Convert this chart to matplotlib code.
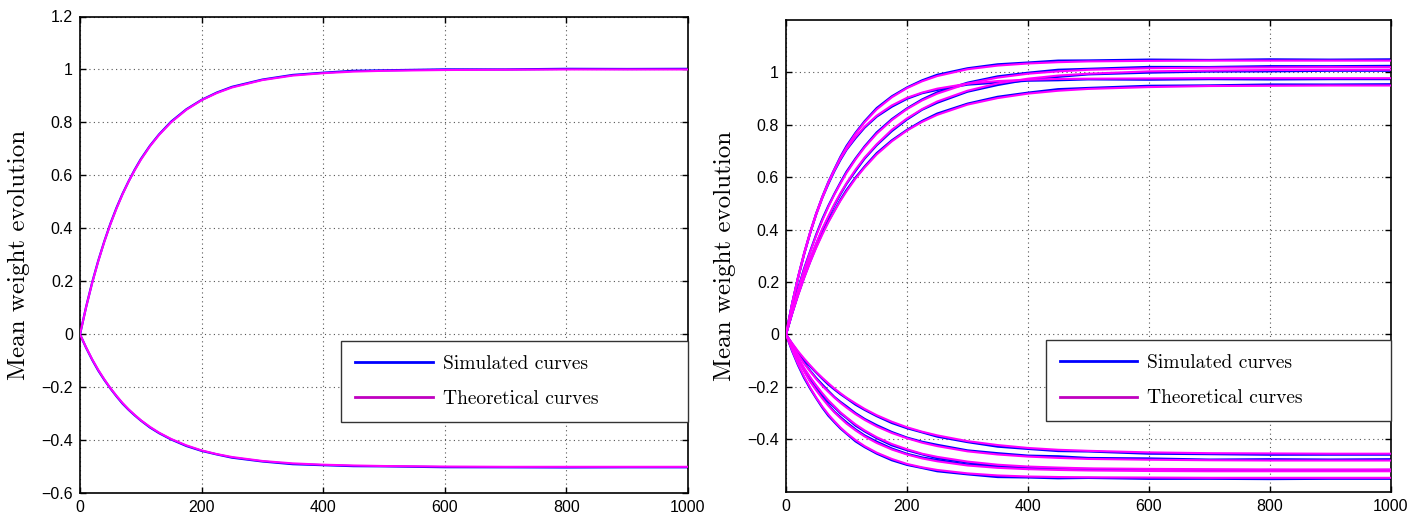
import numpy as np
import matplotlib
matplotlib.use("Agg")
import matplotlib.pyplot as plt
from matplotlib.lines import Line2D
from matplotlib.ticker import FuncFormatter

# iteration index shared by every curve
iters = [0, 10, 20, 30, 40, 50, 60, 70, 80, 90, 100, 115, 130, 150, 175, 200, 225, 250,
         300, 350, 400, 450, 500, 600, 700, 800, 900, 1000]

# left panel: theoretical mean weights (one positive, one negative)
left_up = [0, 0.102, 0.194, 0.276, 0.350, 0.416, 0.475, 0.529, 0.577, 0.620, 0.659, 0.710,
           0.753, 0.801, 0.848, 0.884, 0.911, 0.932, 0.960, 0.977, 0.986, 0.992, 0.995,
           0.998, 0.999, 1.000, 1.000, 1.000]
left_down = [0, -0.049, -0.094, -0.134, -0.170, -0.203, -0.232, -0.259, -0.283, -0.304,
             -0.324, -0.349, -0.371, -0.395, -0.419, -0.438, -0.452, -0.463, -0.478, -0.487,
             -0.492, -0.495, -0.497, -0.499, -0.500, -0.500, -0.500, -0.500]

# right panel: theoretical mean weights, five positive and five negative
right_up = [
    [0, 0.114, 0.214, 0.305, 0.386, 0.457, 0.520, 0.578, 0.628, 0.674, 0.714, 0.766, 0.810,
     0.859, 0.905, 0.940, 0.966, 0.986, 1.012, 1.026, 1.034, 1.039, 1.042, 1.044, 1.045,
     1.045, 1.045, 1.045],
    [0, 0.117, 0.221, 0.312, 0.392, 0.463, 0.525, 0.579, 0.627, 0.670, 0.707, 0.754, 0.793,
     0.835, 0.874, 0.903, 0.923, 0.938, 0.957, 0.967, 0.972, 0.975, 0.976, 0.977, 0.978,
     0.978, 0.978, 0.978],
    [0, 0.090, 0.172, 0.248, 0.315, 0.378, 0.435, 0.487, 0.534, 0.576, 0.616, 0.668, 0.714,
     0.766, 0.818, 0.860, 0.893, 0.919, 0.957, 0.980, 0.995, 1.004, 1.010, 1.016, 1.018,
     1.019, 1.020, 1.020],
    [0, 0.082, 0.158, 0.226, 0.291, 0.348, 0.403, 0.451, 0.497, 0.539, 0.577, 0.629, 0.675,
     0.726, 0.781, 0.824, 0.860, 0.889, 0.930, 0.958, 0.976, 0.988, 0.995, 1.004, 1.007,
     1.009, 1.010, 1.010],
    [0, 0.078, 0.149, 0.215, 0.276, 0.331, 0.381, 0.428, 0.470, 0.510, 0.546, 0.595, 0.637,
     0.687, 0.737, 0.778, 0.811, 0.838, 0.877, 0.902, 0.919, 0.930, 0.937, 0.944, 0.948,
     0.949, 0.950, 0.950],
]
right_down = [
    [0, -0.033, -0.064, -0.092, -0.118, -0.143, -0.165, -0.186, -0.206, -0.224, -0.241,
     -0.263, -0.284, -0.308, -0.333, -0.354, -0.371, -0.385, -0.407, -0.422, -0.433, -0.440,
     -0.444, -0.450, -0.453, -0.454, -0.455, -0.455],
    [0, -0.040, -0.077, -0.111, -0.141, -0.170, -0.196, -0.219, -0.241, -0.261, -0.279,
     -0.304, -0.326, -0.351, -0.376, -0.396, -0.413, -0.426, -0.446, -0.458, -0.466, -0.471,
     -0.475, -0.478, -0.480, -0.481, -0.481, -0.481],
    [0, -0.047, -0.089, -0.128, -0.163, -0.195, -0.224, -0.251, -0.274, -0.297, -0.316,
     -0.343, -0.366, -0.392, -0.418, -0.438, -0.455, -0.467, -0.485, -0.497, -0.504, -0.508,
     -0.511, -0.513, -0.514, -0.515, -0.515, -0.515],
    [0, -0.052, -0.099, -0.141, -0.180, -0.213, -0.244, -0.272, -0.297, -0.319, -0.340,
     -0.366, -0.389, -0.414, -0.439, -0.458, -0.473, -0.484, -0.500, -0.509, -0.514, -0.517,
     -0.519, -0.521, -0.522, -0.522, -0.522, -0.522],
    [0, -0.060, -0.114, -0.161, -0.203, -0.241, -0.275, -0.305, -0.331, -0.355, -0.376,
     -0.403, -0.426, -0.451, -0.475, -0.494, -0.507, -0.517, -0.530, -0.538, -0.542, -0.544,
     -0.545, -0.546, -0.547, -0.547, -0.547, -0.547],
]

# how far the simulated (blue) runs stray from theory
dev_a = [0, 0.002, 0.003, 0.003, 0.002, 0.003, 0.004, 0.003, 0.002, 0.003, 0.004, 0.003,
         0.003, 0.004, 0.003, 0.002, 0.003, 0.004, 0.003, 0.004, 0.003, 0.005, 0.003, 0.004,
         0.002, 0.004, 0.003, 0.004]
dev_b = [0, -0.002, -0.003, -0.004, -0.003, -0.002, -0.003, -0.004, -0.003, -0.003, -0.002,
         -0.004, -0.003, -0.003, -0.004, -0.003, -0.002, -0.004, -0.003, -0.005, -0.003,
         -0.004, -0.002, -0.004, -0.003, -0.004, -0.003, -0.003]

SIM = "#0000ff"
THEO = "#ff00ff"

fig = plt.figure(figsize=(14.24, 5.16), dpi=100)
ax1 = fig.add_axes([80 / 1424, 1 - 493.3 / 516, 608 / 1424, 476.8 / 516])
ax2 = fig.add_axes([786 / 1424, 1 - 491.7 / 516, 604.7 / 1424, 471.7 / 516])


def fmt(v, pos):
    return f"{round(v, 2) + 0.0:g}".replace("-", "\u2212")


def draw(ax, theory, yticks, dev_scale):
    x = np.array(iters)
    for i, th in enumerate(theory):
        dev = np.array(dev_a if i % 2 == 0 else dev_b) * dev_scale
        ax.plot(x, np.array(th) + dev, color=SIM, lw=1.6, zorder=2)
    for th in theory:
        ax.plot(x, th, color=THEO, lw=1.5, zorder=3)
    ax.set_xlim(0, 1000)
    ax.set_ylim(-0.6, 1.2)
    ax.set_xticks(range(0, 1001, 200))
    ax.set_yticks(yticks)
    ax.yaxis.set_major_formatter(FuncFormatter(fmt))
    ax.grid(True, color="#555555", linestyle=(0, (1, 3)), lw=0.8)
    ax.tick_params(direction="in", length=4, width=1, top=True, right=True,
                   labelsize=11.5, pad=5)
    for lab in ax.get_xticklabels() + ax.get_yticklabels():
        lab.set_fontfamily("Liberation Sans")
    for sp in ax.spines.values():
        sp.set_linewidth(1.2)
    ax.set_ylabel("Mean weight evolution", fontname="cmr10", fontsize=18)
    ax.yaxis.set_label_coords(-0.082, 0.5)
    handles = [Line2D([], [], color=SIM, lw=2),
               Line2D([], [], color="#c000c0", lw=2)]
    leg = ax.legend(handles, ["Simulated curves", "Theoretical curves"],
                    loc="lower left", bbox_to_anchor=(0.43, 0.15, 0.57, 0.176),
                    mode="expand", borderaxespad=0, fancybox=False,
                    framealpha=1, edgecolor="#333333", handlelength=4.0,
                    handletextpad=0.5, borderpad=0.7, labelspacing=0.9,
                    prop={"family": "cmr10", "size": 14})
    leg.get_frame().set_linewidth(1.0)
    leg.set_zorder(5)


draw(ax1, [left_up, left_down], np.round(np.arange(-0.6, 1.21, 0.2), 1), 0.6)
draw(ax2, right_up + right_down, np.round(np.arange(-0.4, 1.01, 0.2), 1), 1.2)

fig.savefig("out.png", dpi=100)
